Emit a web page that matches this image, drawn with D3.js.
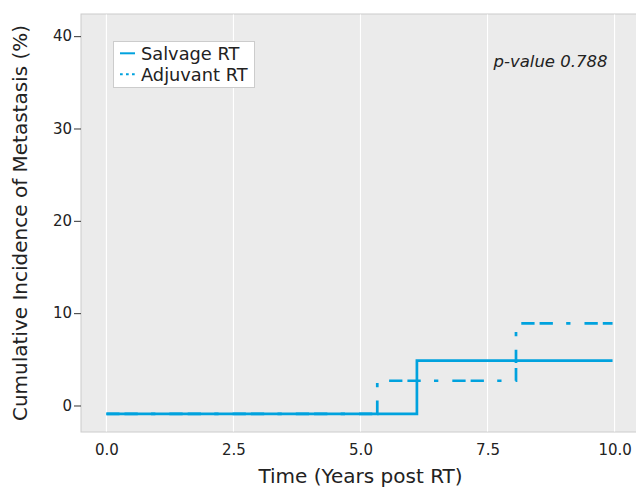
<!DOCTYPE html>
<html>
<head>
<meta charset="utf-8">
<script src="https://cdn.jsdelivr.net/npm/d3@7"></script>
<style>
  html, body { margin: 0; padding: 0; background: #ffffff; }
  svg { display: block; font-family: "DejaVu Sans", sans-serif; }
</style>
</head>
<body>
<svg id="chart" width="636" height="487"></svg>
<script>
// ---- data ----
const seriesNames = ["Salvage RT", "Adjuvant RT"];
const salvageTime = [0, 6.11, 9.96];
const salvageInc = [-0.9, 4.85, 4.85];
const adjuvantTime = [0, 5.33, 8.06, 9.96];
const adjuvantInc = [-0.9, 2.68, 8.9, 8.9];
const xTicks = [0, 2.5, 5, 7.5, 10];
const yTicks = [0, 10, 20, 30, 40];
const pValueText = "p-value 0.788";
const xTitle = "Time (Years post RT)";
const yTitle = "Cumulative Incidence of Metastasis (%)";

// ---- layout ----
const svg = d3.select("#chart");
const panel = { left: 81, right: 640, top: 14, bottom: 432 };
const color = "#00a2de";
const x = d3.scaleLinear().domain([-0.5, 10.5]).range([panel.left, panel.right]);
const y = d3.scaleLinear().domain([-2.87, 42.4]).range([panel.bottom, panel.top]);

// panel
svg.append("rect")
  .attr("x", panel.left).attr("y", panel.top)
  .attr("width", panel.right - panel.left).attr("height", panel.bottom - panel.top)
  .attr("fill", "#ebebeb").attr("stroke", "#cccccc").attr("stroke-width", 1);

// vertical grid
svg.append("g").selectAll("line").data(xTicks).join("line")
  .attr("x1", d => x(d)).attr("x2", d => x(d))
  .attr("y1", panel.top + 0.5).attr("y2", panel.bottom - 0.5)
  .attr("stroke", "#ffffff").attr("stroke-width", 1.1);

// axes
const xAxis = svg.append("g")
  .attr("transform", `translate(0,${panel.bottom})`)
  .call(d3.axisBottom(x).tickValues(xTicks).tickFormat(d3.format(".1f")).tickSize(0).tickPadding(12));
xAxis.select(".domain").remove();
xAxis.selectAll("text").attr("font-size", 15).attr("fill", "#222").attr("font-family", "DejaVu Sans");

const yAxis = svg.append("g")
  .attr("transform", `translate(${panel.left},0)`)
  .call(d3.axisLeft(y).tickValues(yTicks).tickFormat(d3.format("d")).tickSize(7).tickPadding(2));
yAxis.select(".domain").remove();
yAxis.selectAll(".tick line").attr("stroke", "#333").attr("stroke-width", 1);
yAxis.selectAll("text").attr("font-size", 15).attr("fill", "#222").attr("font-family", "DejaVu Sans");

// lines
const line = d3.line().x(d => x(d[0])).y(d => y(d[1])).curve(d3.curveStepAfter);
const salvage = salvageTime.map((t, i) => [t, salvageInc[i]]);
const adjuvant = adjuvantTime.map((t, i) => [t, adjuvantInc[i]]);

const dashPattern = [13.3, 5, 13.3, 13.3, 4.3, 14];
const period = d3.sum(dashPattern);
const firstJump = x(adjuvantTime[1]) - x(adjuvantTime[0]);
const offset = (((dashPattern[0] + dashPattern[1] - firstJump) % period) + period) % period;

svg.append("path").datum(adjuvant)
  .attr("d", line).attr("fill", "none").attr("stroke", color)
  .attr("stroke-width", 2.7).attr("stroke-dasharray", dashPattern.join(","))
  .attr("stroke-dashoffset", offset);

svg.append("path").datum(salvage)
  .attr("d", line).attr("fill", "none").attr("stroke", color)
  .attr("stroke-width", 2.7);

// legend
const lg = svg.append("g");
lg.append("rect").attr("x", 113.5).attr("y", 41.5).attr("width", 141).attr("height", 46)
  .attr("fill", "#ffffff").attr("stroke", "#cccccc").attr("stroke-width", 1);
const keyY = [53.3, 74.3];
const textY = [59.5, 80.7];
seriesNames.forEach((name, i) => {
  lg.append("line").attr("x1", 120).attr("x2", 135).attr("y1", keyY[i]).attr("y2", keyY[i])
    .attr("stroke", color).attr("stroke-width", 2)
    .attr("stroke-dasharray", i === 1 ? "2.7,3.3" : null);
  lg.append("text").attr("x", 141).attr("y", textY[i]).text(name)
    .attr("font-size", 17.8).attr("fill", "#222");
});

// p-value annotation
svg.append("text").attr("x", 607.5).attr("y", 66.5).attr("text-anchor", "end")
  .attr("font-size", 16.5).attr("font-style", "italic").attr("fill", "#222").text(pValueText);

// axis titles
svg.append("text").attr("x", (x(0) + x(10)) / 2).attr("y", 483).attr("text-anchor", "middle")
  .attr("font-size", 20).attr("fill", "#222").text(xTitle);
svg.append("text").attr("transform", `translate(27,${(panel.top + panel.bottom) / 2}) rotate(-90)`)
  .attr("text-anchor", "middle").attr("font-size", 20).attr("fill", "#222").text(yTitle);
</script>
</body>
</html>
